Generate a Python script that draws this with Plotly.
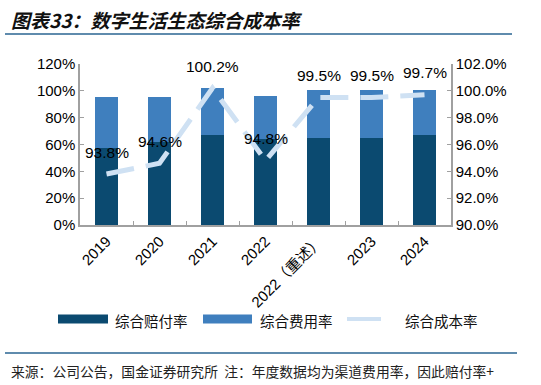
import plotly.graph_objects as go

categories = ["2019", "2020", "2021", "2022", "2022（重述）", "2023", "2024"]
loss_ratio = [57.2, 61.6, 67.3, 64.1, 65.1, 65.1, 67.1]
expense_ratio = [38.0, 33.6, 34.6, 32.0, 35.5, 35.5, 33.5]
combined_ratio = [93.8, 94.6, 100.2, 94.8, 99.5, 99.5, 99.7]
label_texts = ["93.8%", "94.6%", "100.2%", "94.8%", "99.5%", "99.5%", "99.7%"]
series_names = ["综合赔付率", "综合费用率", "综合成本率"]

W, H = 541, 385
# plot area in window pixels (reference)
L, R, T, B = 80, 451, 64, 225

def px2x(px):
    return (px - L) / (R - L)

def py2y(py):
    return (B - py) / (B - T)

DARK = "#0b4a70"
LIGHT = "#3f7fbe"
LINEC = "#cfe1f3"
RULE = "#2a6592"
FONT = "Liberation Sans, Arial, Noto Sans CJK SC, sans-serif"
CJK = "Noto Sans CJK SC, sans-serif"

fig = go.Figure()
fig.add_trace(go.Bar(x=categories, y=loss_ratio, name=series_names[0],
                     marker=dict(color=DARK, line=dict(width=0)), showlegend=False))
fig.add_trace(go.Bar(x=categories, y=expense_ratio, name=series_names[1],
                     marker=dict(color=LIGHT, line=dict(width=0)), showlegend=False))
fig.add_trace(go.Scatter(x=categories, y=combined_ratio, name=series_names[2], yaxis="y2",
                         mode="lines", line=dict(color=LINEC, width=5, dash="28px,12px"),
                         showlegend=False))

annotations = []
for i, (v, t) in enumerate(zip(combined_ratio, label_texts)):
    annotations.append(dict(x=i, y=v, xref="x", yref="y2", text=t, showarrow=False,
                            yshift=22, font=dict(family=FONT, size=15.5, color="#000")))

# title
annotations.append(dict(x=px2x(9), y=py2y(19), xref="paper", yref="paper",
                        xanchor="left", yanchor="middle", showarrow=False,
                        text="<b><i>图表33：数字生活生态综合成本率</i></b>",
                        font=dict(family=CJK, size=19, color="#111")))
# footer
annotations.append(dict(x=px2x(9), y=py2y(371), xref="paper", yref="paper",
                        xanchor="left", yanchor="middle", showarrow=False,
                        text="来源：公司公告，国金证券研究所  注：年度数据均为渠道费用率，因此赔付率+",
                        font=dict(family=CJK, size=13.8, color="#222")))

# custom legend
legend_items = [
    (series_names[0], 58, 108, 113, "bar", DARK),
    (series_names[1], 203, 252, 258, "bar", LIGHT),
    (series_names[2], 347, 381, 403, "line", LINEC),
]
shapes = []
ly = 319
for name, x0, x1, tx, kind, col in legend_items:
    if kind == "bar":
        shapes.append(dict(type="rect", xref="paper", yref="paper",
                           x0=px2x(x0), x1=px2x(x1), y0=py2y(ly + 4.5), y1=py2y(ly - 4.5),
                           fillcolor=col, line=dict(width=0)))
    else:
        shapes.append(dict(type="line", xref="paper", yref="paper",
                           x0=px2x(x0), x1=px2x(x1), y0=py2y(ly), y1=py2y(ly),
                           line=dict(color=col, width=4)))
    annotations.append(dict(x=px2x(tx), y=py2y(ly + 1), xref="paper", yref="paper",
                            xanchor="left", yanchor="middle", showarrow=False, text=name,
                            font=dict(family=CJK, size=14.5, color="#111")))

shapes.append(dict(type="line", xref="paper", yref="paper",
                   x0=px2x(5), x1=px2x(512), y0=py2y(34), y1=py2y(34),
                   line=dict(color=RULE, width=1.5)))
shapes.append(dict(type="line", xref="paper", yref="paper",
                   x0=px2x(5), x1=px2x(517), y0=py2y(353), y1=py2y(353),
                   line=dict(color=RULE, width=1.5)))

fig.update_layout(
    width=W, height=H,
    margin=dict(l=L, r=W - R, t=T, b=H - B),
    paper_bgcolor="white", plot_bgcolor="white",
    barmode="stack", bargap=0.58,
    showlegend=False,
    font=dict(family=FONT, size=15, color="#000"),
    xaxis=dict(type="category", range=[-0.5, len(categories) - 0.5], autorange=False,
               tickangle=-45, showline=True, linecolor="#a0a0a0",
               linewidth=1.5, ticks="inside", ticklen=4, tickcolor="#a0a0a0",
               tickson="boundaries", showgrid=False, zeroline=False,
               tickfont=dict(family=FONT, size=15, color="#000")),
    yaxis=dict(range=[0, 120], autorange=False, tickvals=[0, 20, 40, 60, 80, 100, 120],
               ticktext=["0%", "20%", "40%", "60%", "80%", "100%", "120%"],
               showline=True, linecolor="#a0a0a0", linewidth=1.5, ticks="inside",
               ticklen=4, tickcolor="#a0a0a0", showgrid=False, zeroline=False,
               tickfont=dict(family=FONT, size=15, color="#000")),
    yaxis2=dict(range=[90, 102], autorange=False, overlaying="y", side="right",
                tickvals=[90, 92, 94, 96, 98, 100, 102],
                ticktext=["90.0%", "92.0%", "94.0%", "96.0%", "98.0%", "100.0%", "102.0%"],
                showline=True, linecolor="#a0a0a0", linewidth=1.5, ticks="inside",
                ticklen=4, tickcolor="#a0a0a0", showgrid=False, zeroline=False,
                tickfont=dict(family=FONT, size=15, color="#000")),
    annotations=annotations,
    shapes=shapes,
)

fig.write_html("out.html", config={"displayModeBar": False},
               post_script="document.body.style.margin='0';")
